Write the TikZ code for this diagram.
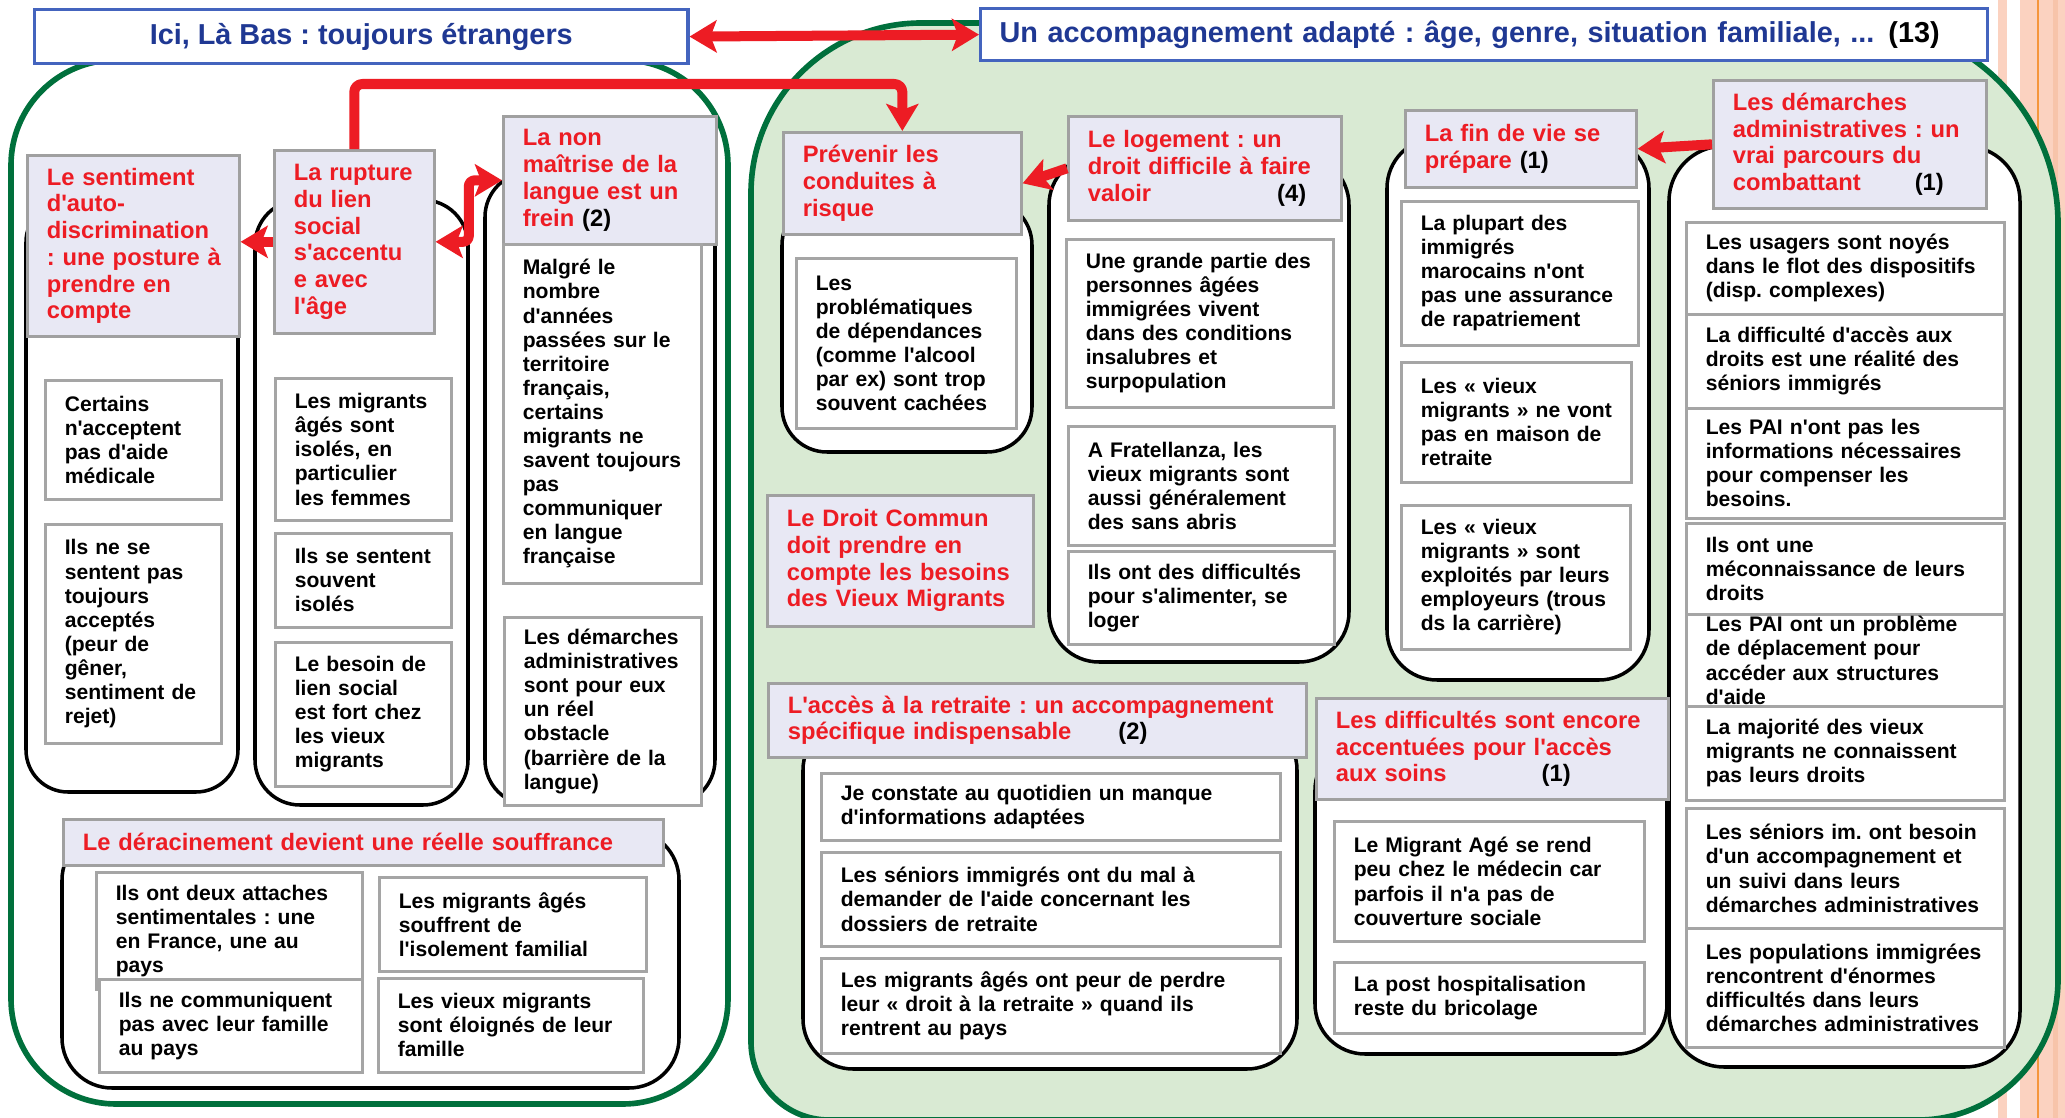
\documentclass[tikz,border=0pt]{standalone}
\usepackage{fontspec}
\setmainfont{Liberation Sans}
\newfontfamily\lsans{Liberation Sans}
\frenchspacing
\usetikzlibrary{arrows.meta,calc}
\definecolor{grn}{RGB}{0,112,60}
\definecolor{grnfill}{RGB}{217,234,211}
\definecolor{hdrfill}{RGB}{232,232,244}
\definecolor{hdrgray}{RGB}{160,160,160}
\definecolor{bxgray}{RGB}{165,165,165}
\definecolor{txtred}{RGB}{237,28,36}
\definecolor{arrred}{RGB}{237,28,36}
\definecolor{ttlblue}{RGB}{31,56,147}
\definecolor{ttlborder}{RGB}{68,100,190}
\definecolor{peach}{RGB}{251,210,192}
\definecolor{peachdk}{RGB}{247,196,170}
\definecolor{orng}{RGB}{245,150,60}
\tikzset{
  base/.style={anchor=north west, inner xsep=0pt, inner ysep=0pt, align=left,
    execute at begin node={\frenchspacing\leftskip=0.195cm\relax}},
  hdr/.style={base, draw=hdrgray, line width=0.75pt, fill=hdrfill, text=txtred,
    font=\lsans\fontsize{6.75}{7.6}\selectfont\bfseries},
  bx/.style={base, draw=bxgray, line width=0.75pt, fill=white, text=black,
    font=\lsans\fontsize{6}{6.85}\selectfont\bfseries},
  cont/.style={draw=black, line width=1pt, fill=white},
  grnc/.style={draw=grn, line width=1.6pt},
  ttl/.style={anchor=north west, draw=ttlborder, line width=0.9pt, fill=white,
    text=ttlblue, font=\lsans\fontsize{8.2}{9.5}\selectfont\bfseries, inner sep=0pt},
  rarr/.style={draw=arrred, line width=0.1cm, line join=round},
}
\newcommand\mybox[7]{\node[#1, minimum width={(#5-#3)*0.01cm}, minimum height={(#6-#4)*0.01cm}, text width={(#5-#3)*0.01cm}] (#2) at (#3,#4) {#7};}
\newcommand\blk[1]{{\color{black}#1}}
\begin{document}
\begin{tikzpicture}[x=0.01cm, y=-0.01cm, >={Stealth[length=0.27cm,width=0.32cm,inset=0.06cm]}]
\fill[white] (0,0) rectangle (2065,1118);
\useasboundingbox (0,0) rectangle (2065,1118);
% decorative stripes
\fill[peach] (1998,0) rectangle (2007,1118);
\fill[peach] (2020,0) rectangle (2065,1118);
\fill[peachdk] (2053,0) rectangle (2058,1118);
\fill[orng] (2037,0) rectangle (2038.6,1118);
% left big container
\draw[grnc, fill=white, rounded corners=1.05cm] (11,60) rectangle (728,1104);
% right green container
\draw[grnc, fill=grnfill] (751,600)
  [rounded corners=0.78cm] -- (751,1120) -- (1400,1120)
  [rounded corners=1.4cm] -- (2058,1120) -- (2058,600)
  [rounded corners=2cm] -- (2058,23) -- (1400,23)
  [rounded corners=1.7cm] -- (751,23) -- cycle;
% column containers
\draw[cont, rounded corners=0.42cm] (26,200) rectangle (238,792);
\draw[cont, rounded corners=0.45cm] (255,200) rectangle (468,805);
\draw[cont, rounded corners=0.45cm] (485,172) rectangle (715,805);
\draw[cont, rounded corners=0.5cm] (62,830) rectangle (679,1088);
\draw[cont, rounded corners=0.45cm] (782,200) rectangle (1032,452);
\draw[cont, rounded corners=0.5cm] (1049,155) rectangle (1349,662);
\draw[cont, rounded corners=0.5cm] (803,720) rectangle (1297,1069);
\draw[cont, rounded corners=0.5cm] (1315,740) rectangle (1667,1054);
\draw[cont, rounded corners=0.5cm] (1387,138) rectangle (1649,680);
\draw[cont, rounded corners=0.55cm] (1669,146) rectangle (2020,1067);
% column 1
\mybox{hdr}{sent}{26}{154}{238}{335}{Le sentiment\\ d'auto-\\ discrimination\\ : une posture à\\ prendre en\\ compte}
\mybox{bx}{s1}{44}{379}{220}{498}{Certains\\ n'acceptent\\ pas d'aide\\ médicale}
\mybox{bx}{s2}{44}{523}{220}{742}{Ils ne se\\ sentent pas\\ toujours\\ acceptés\\ (peur de\\ gêner,\\ sentiment de\\ rejet)}
% column 2
\mybox{hdr}{rupt}{273}{149}{433}{332}{La rupture\\ du lien\\ social\\ s'accentu\\ e avec\\ l'âge}
\mybox{bx}{r1}{274}{377}{450}{519}{Les migrants\\ âgés sont\\ isolés, en\\ particulier\\ les femmes}
\mybox{bx}{r2}{274}{532}{450}{626}{Ils se sentent\\ souvent\\ isolés}
\mybox{bx}{r3}{274}{641}{450}{785}{Le besoin de\\ lien social\\ est fort chez\\ les vieux\\ migrants}
% column 3
\mybox{hdr}{nonh}{502}{115}{715}{243}{La non\\ maîtrise de la\\ langue est un\\ frein \blk{(2)}}
\mybox{bx}{n1}{502}{243}{700}{582}{Malgré le\\ nombre\\ d'années\\ passées sur le\\ territoire\\ français,\\ certains\\ migrants ne\\ savent toujours\\ pas\\ communiquer\\ en langue\\ française}
\mybox{bx}{n2}{503}{616}{700}{804}{Les démarches\\ administratives\\ sont pour eux\\ un réel\\ obstacle\\ (barrière de la\\ langue)}
% deracinement
\mybox{hdr}{der}{62}{818}{662}{864}{Le déracinement devient une réelle souffrance}
\mybox{bx}{d1}{95}{871}{361}{988}{Ils ont deux attaches\\ sentimentales : une\\ en France, une au\\ pays}
\mybox{bx}{d2}{98}{978}{361}{1071}{Ils ne communiquent\\ pas avec leur famille\\ au pays}
\mybox{bx}{d3}{378}{876}{645}{970}{Les migrants âgés\\ souffrent de\\ l'isolement familial}
\mybox{bx}{d4}{377}{977}{642}{1071}{Les vieux migrants\\ sont éloignés de leur\\ famille}
% prevenir
\mybox{hdr}{prev}{782}{131}{1020}{233}{Prévenir les\\ conduites à\\ risque}
\mybox{bx}{p1}{795}{257}{1015}{427}{Les\\ problématiques\\ de dépendances\\ (comme l'alcool\\ par ex) sont trop\\ souvent cachées}
% logement
\mybox{hdr}{loge}{1067}{115}{1340}{219}{Le logement : un\\ droit difficile à faire\\ valoir\hspace{1.26cm}\blk{(4)}}
\mybox{bx}{l1}{1065}{238}{1332}{406}{Une grande partie des\\ personnes âgées\\ immigrées vivent\\ dans des conditions\\ insalubres et\\ surpopulation}
\mybox{bx}{l2}{1067}{425}{1333}{544}{A Fratellanza, les\\ vieux migrants sont\\ aussi généralement\\ des sans abris}
\mybox{bx}{l3}{1067}{550}{1333}{643}{Ils ont des difficultés\\ pour s'alimenter, se\\ loger}
% droit commun
\mybox{hdr}{droit}{766}{494}{1032}{625}{Le Droit Commun\\ doit prendre en\\ compte les besoins\\ des Vieux Migrants}
% retraite
\mybox{hdr}{retr}{767}{682}{1305}{756}{L'accès à la retraite : un accompagnement\\ spécifique indispensable\hspace{0.47cm}\blk{(2)}}
\mybox{bx}{rt1}{820}{772}{1279}{839}{Je constate au quotidien un manque\\ d'informations adaptées}
\mybox{bx}{rt2}{820}{851}{1279}{945}{Les séniors immigrés ont du mal à\\ demander de l'aide concernant les\\ dossiers de retraite}
\mybox{bx}{rt3}{820}{957}{1279}{1052}{Les migrants âgés ont peur de perdre\\ leur « droit à la retraite » quand ils\\ rentrent au pays}
% fin de vie
\mybox{hdr}{fin}{1404}{109}{1635}{186}{La fin de vie se\\ prépare \blk{(1)}}
\mybox{bx}{f1}{1400}{200}{1637}{344}{La plupart des\\ immigrés\\ marocains n'ont\\ pas une assurance\\ de rapatriement}
\mybox{bx}{f2}{1400}{361}{1630}{481}{Les « vieux\\ migrants » ne vont\\ pas en maison de\\ retraite}
\mybox{bx}{f3}{1400}{504}{1629}{648}{Les « vieux\\ migrants » sont\\ exploités par leurs\\ employeurs (trous\\ ds la carrière)}
% soins
\mybox{hdr}{soin}{1315}{697}{1667}{798}{Les difficultés sont encore\\ accentuées pour l'accès\\ aux soins\hspace{0.95cm}\blk{(1)}}
\mybox{bx}{so1}{1333}{820}{1643}{940}{Le Migrant Agé se rend\\ peu chez le médecin car\\ parfois il n'a pas de\\ couverture sociale}
\mybox{bx}{so2}{1333}{961}{1643}{1032}{La post hospitalisation\\ reste du bricolage}
% demarches
\mybox{hdr}{dem}{1712}{79}{1985}{207}{Les démarches\\ administratives : un\\ vrai parcours du\\ combattant\hspace{0.54cm}\blk{(1)}}
\mybox{bx}{dm1}{1685}{221}{2003}{313}{Les usagers sont noyés\\ dans le flot des dispositifs\\ (disp. complexes)}
\mybox{bx}{dm2}{1685}{313}{2003}{407}{La difficulté d'accès aux\\ droits est une réalité des\\ séniors immigrés}
\mybox{bx}{dm3}{1685}{407}{2003}{517}{Les PAI n'ont pas les\\ informations nécessaires\\ pour compenser les\\ besoins.}
\mybox{bx}{dm4}{1685}{522}{2003}{613}{Ils ont une\\ méconnaissance de leurs\\ droits}
\mybox{bx}{dm5}{1685}{613}{2003}{705}{Les PAI ont un problème\\ de déplacement pour\\ accéder aux structures\\ d'aide}
\mybox{bx}{dm6}{1685}{705}{2003}{799}{La majorité des vieux\\ migrants ne connaissent\\ pas leurs droits}
\mybox{bx}{dm7}{1685}{807}{2003}{927}{Les séniors im. ont besoin\\ d'un accompagnement et\\ un suivi dans leurs\\ démarches administratives}
\mybox{bx}{dm8}{1685}{927}{2003}{1046}{Les populations immigrées\\ rencontrent d'énormes\\ difficultés dans leurs\\ démarches administratives}
% titles
\node[ttl, minimum width=6.53cm, minimum height=0.54cm, align=center] (ttl1) at (33,8) {Ici, Là Bas : toujours étrangers};
\node[ttl, minimum width=10.06cm, minimum height=0.52cm, text width=10.06cm, align=left,
  execute at begin node={\frenchspacing\leftskip=0.19cm\relax}] (ttl2) at (979,7)
  {Un accompagnement adapté : âge, genre, situation familiale, ...\hspace{0.14cm}\blk{(13)}};
% red arrows
\coordinate (topbend) at (0,84);
\draw[rarr, <->] (ttl1.east) -- (ttl2.west);
\draw[rarr, ->, rounded corners=0.08cm] (rupt.north) -- (rupt.north |- topbend) -| (prev.north);
\draw[rarr, <->, rounded corners=0.06cm] (rupt.east) -| ($(rupt.east)!0.5!(nonh.west)$) |- (nonh.west);
\draw[rarr, ->] (rupt.west) -- (rupt.west -| sent.east);
\draw[rarr, ->] (loge.west) -- (prev.east);
\draw[rarr, ->] (dem.west) -- (fin.east);
\end{tikzpicture}
\end{document}
